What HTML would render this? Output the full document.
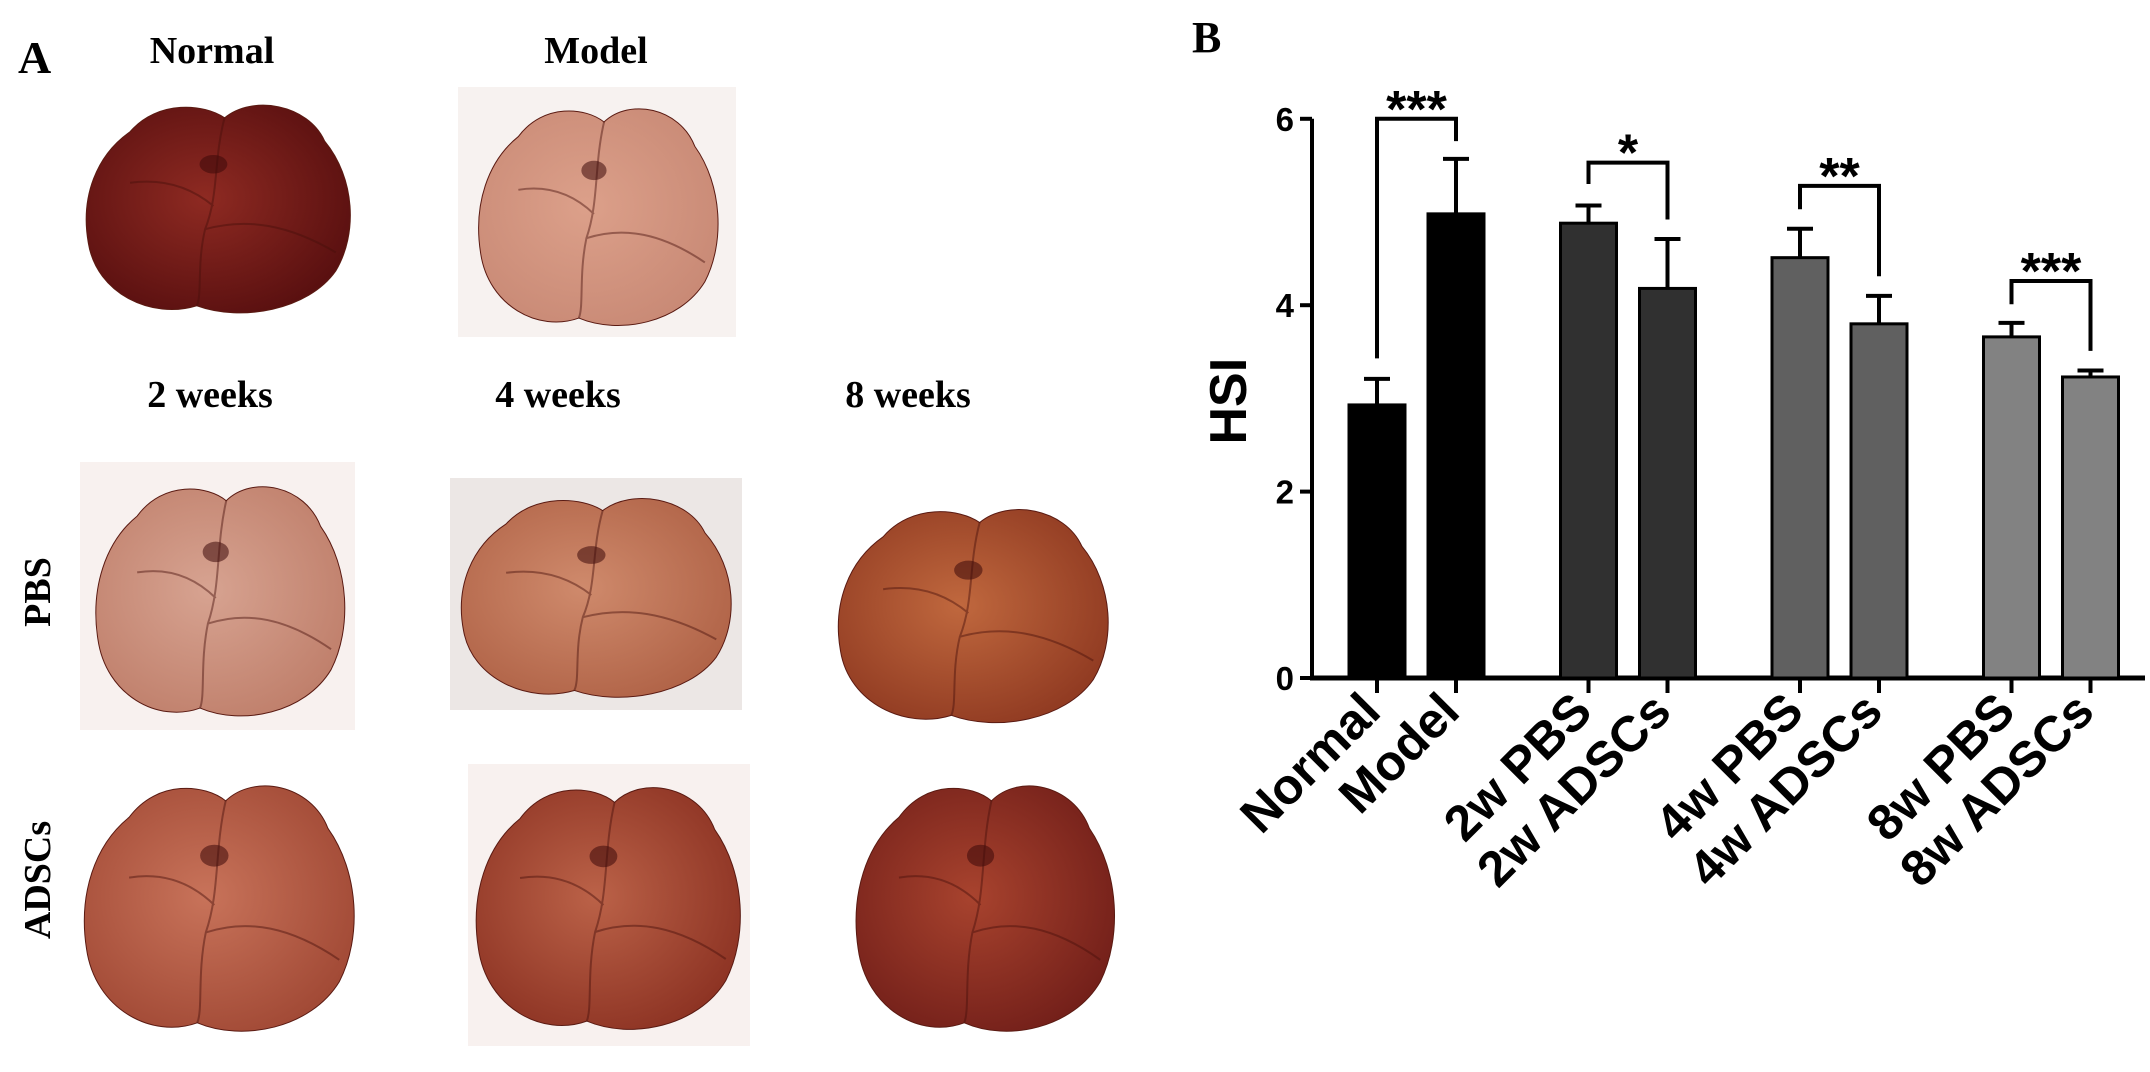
<!DOCTYPE html>
<html><head><meta charset="utf-8">
<style>
html,body{margin:0;padding:0;background:#fff;}
svg{display:block;}
.ttl{font-family:"Liberation Serif",serif;font-weight:bold;fill:#000;}
.ax{font-family:"Liberation Sans",sans-serif;font-weight:bold;fill:#000;}
</style></head>
<body>
<svg id="fig" width="2150" height="1072" viewBox="0 0 2150 1072" xmlns="http://www.w3.org/2000/svg">
<defs>
<radialGradient id="gN" cx="45%" cy="45%" r="60%"><stop offset="0" stop-color="#8e2a22"/><stop offset="1" stop-color="#5a1010"/></radialGradient>
<radialGradient id="gM" cx="45%" cy="45%" r="60%"><stop offset="0" stop-color="#dca08a"/><stop offset="1" stop-color="#c98a76"/></radialGradient>
<radialGradient id="g2P" cx="45%" cy="45%" r="60%"><stop offset="0" stop-color="#d7a391"/><stop offset="1" stop-color="#c0806c"/></radialGradient>
<radialGradient id="g4P" cx="45%" cy="45%" r="60%"><stop offset="0" stop-color="#cf8a6c"/><stop offset="1" stop-color="#b16448"/></radialGradient>
<radialGradient id="g8P" cx="45%" cy="45%" r="60%"><stop offset="0" stop-color="#c0683e"/><stop offset="1" stop-color="#913b22"/></radialGradient>
<radialGradient id="g2A" cx="45%" cy="45%" r="60%"><stop offset="0" stop-color="#c8735a"/><stop offset="1" stop-color="#a24a36"/></radialGradient>
<radialGradient id="g4A" cx="45%" cy="45%" r="60%"><stop offset="0" stop-color="#bb6248"/><stop offset="1" stop-color="#8e3424"/></radialGradient>
<radialGradient id="g8A" cx="45%" cy="45%" r="60%"><stop offset="0" stop-color="#a8432e"/><stop offset="1" stop-color="#74201a"/></radialGradient>
</defs>

<!-- Panel A -->
<g>
<text class="ttl" x="18" y="73" font-size="46">A</text>
<text class="ttl" x="212" y="63" font-size="38" text-anchor="middle">Normal</text>
<text class="ttl" x="596" y="63" font-size="38" text-anchor="middle">Model</text>
<text class="ttl" x="210" y="407" font-size="38" text-anchor="middle">2 weeks</text>
<text class="ttl" x="558" y="407" font-size="38" text-anchor="middle">4 weeks</text>
<text class="ttl" x="908" y="407" font-size="38" text-anchor="middle">8 weeks</text>
<text class="ttl" font-size="38" text-anchor="middle" transform="translate(50,592) rotate(-90)">PBS</text>
<text class="ttl" font-size="38" text-anchor="middle" transform="translate(50,880) rotate(-90)">ADSCs</text>
<rect x="458" y="87" width="278" height="250" fill="#f7f2f0"/>
<rect x="80" y="462" width="275" height="268" fill="#f8f1ef"/>
<rect x="450" y="478" width="292" height="232" fill="#ece7e5"/>
<rect x="468" y="764" width="282" height="282" fill="#f8f1ef"/>
<g id="livers"></g>
</g>

<!-- Panel B -->
<g>
<text class="ttl" x="1192" y="52" font-size="44">B</text>
<g id="chart"></g>
</g>
</svg>

<script>
// ---------- Chart data ----------
const categories = ["Normal","Model","2w PBS","2w ADSCs","4w PBS","4w ADSCs","8w PBS","8w ADSCs"];
const means = [2.93, 4.98, 4.88, 4.18, 4.51, 3.80, 3.66, 3.23];
const errTops = [3.21, 5.57, 5.07, 4.71, 4.82, 4.10, 3.81, 3.30];
const yTicks = [0, 2, 4, 6];
const sigLeft = [0, 2, 4, 6];
const sigRight = [1, 3, 5, 7];
const sigTop = [6.0, 5.53, 5.28, 4.26];
const sigLeftEnd = [3.43, 5.30, 5.03, 4.01];
const sigRightEnd = [5.76, 4.92, 4.31, 3.51];
const sigLabels = ["***", "*", "**", "***"];

const NS = "http://www.w3.org/2000/svg";
const fills = ["#000","#000","#303030","#303030","#606060","#606060","#828282","#828282"];
const Y0 = 678, PX = 93.2, AX = 1312, BW = 56;
function y(v){ return Y0 - v * PX; }
function x(i){ return 1377 + Math.floor(i/2) * 211.5 + (i % 2) * 79; }
function mk(tag, attrs, parent){
  const e = document.createElementNS(NS, tag);
  for (const k in attrs) e.setAttribute(k, attrs[k]);
  parent.appendChild(e);
  return e;
}
const chart = document.getElementById('chart');

let el = mk('line', {x1:AX, y1:y(6), x2:AX, y2:Y0, stroke:'#000','stroke-width':4}, chart);


el = mk('line', {x1:AX-2, y1:Y0, x2:2145, y2:Y0, stroke:'#000','stroke-width':5}, chart);



yTicks.forEach(t => {
  let tk = mk('line', {x1:AX-12, y1:y(t), x2:AX, y2:y(t), stroke:'#000','stroke-width':4}, chart);
  
  
  let lb = mk('text', {x:AX-18, y:y(t)+12, 'text-anchor':'end', 'font-size':33, class:'ax'}, chart);
  lb.textContent = t;
  
  
});

let yt = mk('text', {transform:`translate(1246,${y(2.97)}) rotate(-90)`, 'text-anchor':'middle','font-size':52, class:'ax'}, chart);
yt.textContent = 'HSI';



categories.forEach((c, i) => {
  const cx = x(i);
  let eb = mk('line', {x1:cx, y1:y(errTops[i]), x2:cx, y2:y(means[i]), stroke:'#000','stroke-width':4}, chart);
  
  
  let cap = mk('line', {x1:cx-13, y1:y(errTops[i]), x2:cx+13, y2:y(errTops[i]), stroke:'#000','stroke-width':4}, chart);
  
  
  let b = mk('rect', {x:cx-BW/2, y:y(means[i]), width:BW, height:Y0 - y(means[i]), fill:fills[i], stroke:'#000','stroke-width':3}, chart);
  
  
  let xt = mk('line', {x1:cx, y1:Y0, x2:cx, y2:Y0+15, stroke:'#000','stroke-width':4}, chart);
  
  
  let lb = mk('text', {transform:`translate(${cx+6},${Y0+36}) rotate(-45)`, 'text-anchor':'end','font-size':50, class:'ax'}, chart);
  lb.textContent = c;
  
  
});

sigLabels.forEach((s, k) => {
  const xl = x(sigLeft[k]), xr = x(sigRight[k]);
  let p = mk('path', {d:`M${xl},${y(sigLeftEnd[k])} L${xl},${y(sigTop[k])} L${xr},${y(sigTop[k])} L${xr},${y(sigRightEnd[k])}`, fill:'none', stroke:'#000','stroke-width':4}, chart);
  
  
  let t = mk('text', {x:(xl+xr)/2, y:y(sigTop[k]) + 8, 'text-anchor':'middle','font-size':52, class:'ax'}, chart);
  t.textContent = s;
  
  
});

// ---------- Liver photos (illustrative shapes) ----------
const livers = document.getElementById('livers');
const shape = "M18,18 C28,4 45,6 52,12 C62,2 82,6 88,22 C99,38 100,62 92,78 C82,95 58,100 42,93 C26,99 6,88 3,66 C0,46 6,28 18,18 Z";
const lobes = "M52,12 C48,30 50,45 45,60 C42,75 44,88 42,93 M45,60 C60,55 75,58 92,70 M18,40 C30,38 40,42 48,50";
const boxes = [
  [80,90,278,232,'gN','normal'], [473,93,252,242,'gM','model'],
  [90,470,262,256,'g2P','2w-pbs'], [455,484,284,222,'g4P','4w-pbs'],
  [832,494,284,238,'g8P','8w-pbs'], [78,768,284,274,'g2A','2w-adscs'],
  [470,770,278,270,'g4A','4w-adscs'], [850,768,272,274,'g8A','8w-adscs']
];
boxes.forEach(bx => {
  const g = mk('g', {transform:`translate(${bx[0]},${bx[1]}) scale(${bx[2]/100},${bx[3]/100})`}, livers);
  
  
  mk('path', {d:shape, fill:`url(#${bx[4]})`, stroke:'#5a1a12', 'stroke-width':1, 'vector-effect':'non-scaling-stroke'}, g);
  mk('path', {d:lobes, fill:'none', stroke:'rgba(70,15,10,0.45)', 'stroke-width':2, 'vector-effect':'non-scaling-stroke'}, g);
  mk('ellipse', {cx:48, cy:32, rx:5, ry:4, fill:'rgba(60,10,10,0.55)'}, g);
});
</script>
</body></html>
